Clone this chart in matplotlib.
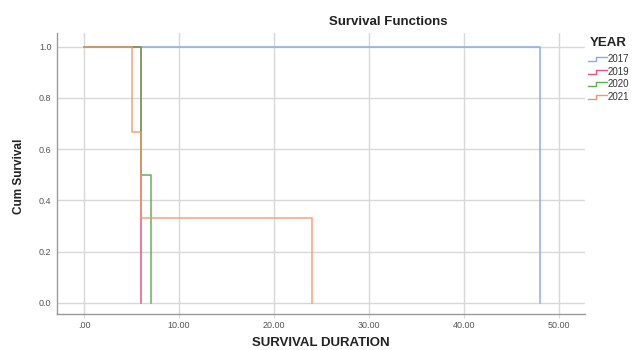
import matplotlib
matplotlib.use("Agg")
import matplotlib.pyplot as plt
from matplotlib.lines import Line2D

plt.rcParams['font.family'] = ['Liberation Sans', 'DejaVu Sans']

years = ["2017", "2019", "2020", "2021"]
times_2017 = [0, 48]
surv_2017 = [1.0, 0.0]
times_2019 = [0, 6]
surv_2019 = [1.0, 0.0]
times_2020 = [0, 6, 7]
surv_2020 = [1.0, 0.5, 0.0]
times_2021 = [0, 5, 6, 24]
surv_2021 = [1.0, 0.667, 0.333, 0.0]
colors = ["#86acec", "#e8547a", "#5aae4e", "#f7956a"]

xticks = [0, 10, 20, 30, 40, 50]
yticks = [0.0, 0.2, 0.4, 0.6, 0.8, 1.0]

fig = plt.figure(figsize=(6.36, 3.5), dpi=100)
ax = fig.add_axes([57/636, 1-314/350, (585-57)/636, (314-33)/350])

series = [(times_2017, surv_2017), (times_2019, surv_2019), (times_2020, surv_2020), (times_2021, surv_2021)]
alphas = [0.95, 0.95, 0.9, 0.85]
for (t, s), c, a in zip(series, colors, alphas):
    ax.step(t, s, where='post', color=c, lw=1.15, alpha=a)

ax.set_xlim(-2.84, 52.7)
ax.set_ylim(-0.043, 1.053)
ax.set_xticks(xticks)
ax.set_xticklabels([".00" if v == 0 else f"{v:.2f}" for v in xticks])
ax.set_yticks(yticks)
ax.set_yticklabels([f"{v:.1f}" for v in yticks])
ax.grid(True, color="#d8d8d8", lw=1)
ax.set_axisbelow(True)
for side in ["top", "right"]:
    ax.spines[side].set_visible(False)
for side in ["left", "bottom"]:
    ax.spines[side].set_color("#9a9a9a")
    ax.spines[side].set_linewidth(1)
ax.tick_params(axis='x', length=3, color="#d8d8d8", labelsize=6.5, labelcolor="#555555", pad=2)
ax.tick_params(axis='y', length=0, labelsize=6.5, labelcolor="#555555", pad=4)

fig.text(321/636, 1-343/350, "SURVIVAL DURATION", ha='center', va='center',
         fontsize=9.5, fontweight='bold', color="#222222")
fig.text(19/636, 1-176/350, "Cum Survival", ha='center', va='center', rotation=90,
         fontsize=8.5, fontweight='bold', color="#222222")
fig.text(388/636, 1-22/350, "Survival Functions", ha='center', va='center',
         fontsize=9.5, fontweight='bold', color="#222222")

# legend (partially clipped at right edge, as in reference)
fig.text(590/636, 1-43/350, "YEAR", ha='left', va='center', fontsize=9.5,
         fontweight='bold', color="#222222")
rows = [59, 72, 84, 97]
for yr, c, ry in zip(years, colors, rows):
    x0, x1, x3 = 588, 596, 607
    ylo, yhi = ry + 2, ry - 2
    xs = [x0/636, x1/636, x1/636, x3/636]
    ys = [1-ylo/350, 1-ylo/350, 1-yhi/350, 1-yhi/350]
    fig.add_artist(Line2D(xs, ys, transform=fig.transFigure, color=c, lw=1.0))
    fig.text(608/636, 1-ry/350, yr, ha='left', va='center', fontsize=7, color="#333333")

fig.savefig("out.png", dpi=100)
